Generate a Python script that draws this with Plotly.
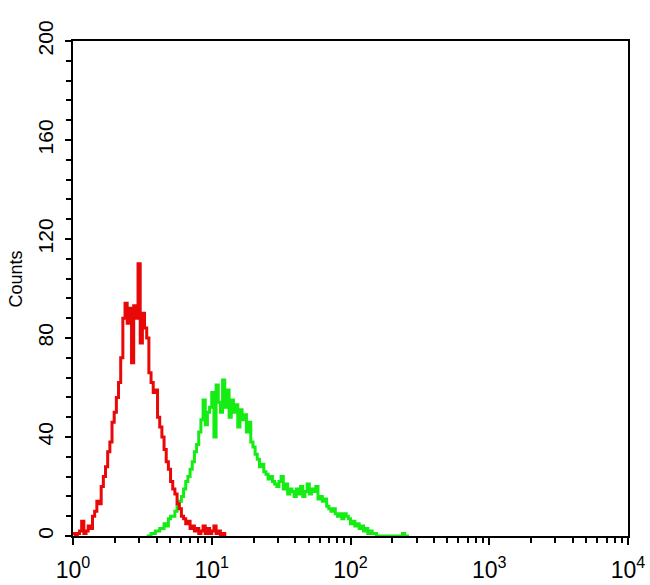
import plotly.graph_objects as go

# ---- data ----
CHANNELS_PER_DECADE = 64

red_start_channel = 0
red_counts = [1, 0, 1, 2, 6, 1, 2, 4, 3, 8,
              10, 14, 13, 20, 24, 28, 34, 38, 46, 50,
              56, 62, 72, 88, 94, 86, 92, 70, 93, 88,
              110, 78, 90, 84, 80, 66, 62, 58, 59, 48,
              44, 40, 35, 30, 27, 22, 19, 17, 13, 11,
              8, 7, 5, 6, 3, 4, 2, 3, 1, 2,
              4, 1, 3, 1, 2, 4, 1, 2, 0, 1, 0]

green_start_channel = 34
green_counts = [0, 0, 1, 1, 2, 2, 3, 3, 5, 4,
                7, 8, 8, 10, 12, 14, 16, 19, 22, 24,
                27, 30, 34, 37, 42, 47, 55, 45, 50, 52,
                58, 40, 61, 54, 50, 63, 52, 59, 48, 55,
                50, 53, 44, 51, 47, 49, 42, 46, 38, 36,
                33, 31, 28, 29, 26, 25, 23, 24, 22, 21,
                20, 22, 24, 19, 21, 17, 19, 18, 16, 19,
                17, 20, 16, 18, 21, 17, 19, 18, 20, 15,
                16, 14, 15, 12, 11, 10, 11, 9, 8, 9,
                7, 9, 8, 7, 5, 6, 4, 5, 3, 4,
                2, 3, 1, 2, 1, 1, 0, 0, 0, 0,
                0, 0, 0, 0, 0, 0, 0, 0, 1, 0,
                0, 0]

x_tick_vals = [1, 10, 100, 1000, 10000]
x_tick_text = ["10<sup>0</sup>", "10<sup>1</sup>", "10<sup>2</sup>",
               "10<sup>3</sup>", "10<sup>4</sup>"]
y_tick_vals = [0, 40, 80, 120, 160, 200]
y_tick_text = ["0", "40", "80", "120", "160", "200"]
y_axis_title = "Counts"


def channel_to_value(start, n):
    return [10 ** ((start + i) / CHANNELS_PER_DECADE) for i in range(n)]


red_x = channel_to_value(red_start_channel, len(red_counts))
green_x = channel_to_value(green_start_channel, len(green_counts))

minor_x = [m * d for d in (1, 10, 100, 1000) for m in range(2, 10)]

fig = go.Figure()
fig.add_trace(go.Scatter(x=green_x, y=green_counts, mode="lines",
                         line=dict(color="#14ec14", width=3, shape="hv"),
                         hoverinfo="skip"))
fig.add_trace(go.Scatter(x=red_x, y=red_counts, mode="lines",
                         line=dict(color="#e80808", width=3, shape="hv"),
                         hoverinfo="skip"))

font_family = "Liberation Sans, Arial, Helvetica, sans-serif"

fig.update_layout(
    width=650, height=585,
    margin=dict(l=73, r=22, t=41, b=49, autoexpand=False),
    plot_bgcolor="white", paper_bgcolor="white",
    showlegend=False,
    font=dict(family=font_family, color="black"),
    xaxis=dict(
        type="log", range=[0, 4], automargin=False,
        showline=True, linecolor="black", linewidth=2, mirror=True,
        showgrid=False, zeroline=False,
        ticks="outside", ticklen=7, tickwidth=2, tickcolor="black",
        tickmode="array", tickvals=x_tick_vals, ticktext=x_tick_text,
        ticklabelstandoff=5,
        tickfont=dict(size=23, family=font_family, color="black"),
        minor=dict(tickmode="array", tickvals=minor_x, ticks="outside",
                   ticklen=5, tickwidth=1.6, tickcolor="black", showgrid=False),
    ),
    yaxis=dict(
        range=[0, 200], automargin=False,
        showline=True, linecolor="black", linewidth=2, mirror=True,
        showgrid=False, zeroline=False,
        ticks="outside", ticklen=6, tickwidth=2, tickcolor="black",
        tickmode="array", tickvals=y_tick_vals, ticktext=y_tick_text,
        tickangle=-90,
        ticklabelstandoff=4,
        tickfont=dict(size=21, family=font_family, color="black"),
        minor=dict(dtick=8, ticks="outside", ticklen=5, tickwidth=1.6,
                   tickcolor="black", showgrid=False),
    ),
    annotations=[dict(
        text=y_axis_title, textangle=-90,
        xref="paper", yref="paper", x=-0.103, y=0.52,
        xanchor="center", yanchor="middle", showarrow=False,
        font=dict(size=18, family=font_family, color="black"),
    )],
)

fig.write_html(
    "out.html",
    config={"displayModeBar": False},
    post_script="document.body.style.margin='0px';"
                "document.body.style.overflow='hidden';",
)
